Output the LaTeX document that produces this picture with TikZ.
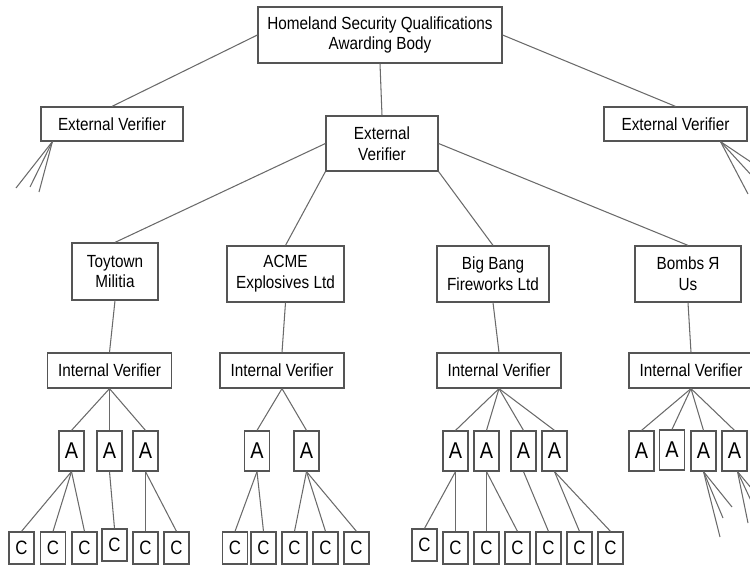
\documentclass[tikz,border=0pt]{standalone}
\usepackage{fontspec}
\setmainfont{Liberation Sans}[FakeStretch=0.87]
\usepackage{tikz}

\definecolor{linegray}{HTML}{6A6A6A}
\definecolor{boxgray}{HTML}{555555}

\tikzset{
	box/.style = {draw = boxgray, fill = white, line width = 0.7pt, align = center, inner sep = 0pt,
		font = \fontsize{10}{11.8}\selectfont},
	abox/.style = {box, minimum width = 0.5cm, minimum height = 0.8cm, font = \fontsize{13}{13}\selectfont},
	cbox/.style = {box, minimum width = 0.5cm, minimum height = 0.64cm, font = \fontsize{11}{11}\selectfont},
	link/.style = {draw = linegray, line width = 0.6pt}
}

\begin{document}
\begin{tikzpicture}[x = 0.02cm, y = -0.02cm]
	\useasboundingbox (0,0) rectangle (750,565);
	\clip (0,0) rectangle (750,565);

	\node[box, minimum width = 4.88cm, minimum height = 1.12cm] (hsq) at (380,35) {Homeland Security Qualifications\\Awarding Body};
	\node[box, minimum width = 2.84cm, minimum height = 0.68cm] (evl) at (112,124) {External Verifier};
	\node[box, minimum width = 2.86cm, minimum height = 0.68cm] (evr) at (675.5,124) {External Verifier};
	\node[box, minimum width = 2.24cm, minimum height = 1.1cm] (evm) at (382,143.5) {External\\Verifier};

	\node[box, minimum width = 1.72cm, minimum height = 1.14cm] (toy) at (115,271.5) {Toytown\\Militia};
	\node[box, minimum width = 2.34cm, minimum height = 1.12cm] (acme) at (285.5,274) {ACME\\Explosives Ltd};
	\node[box, minimum width = 2.24cm, minimum height = 1.12cm] (bang) at (493,274) {Big Bang\\Fireworks Ltd};
	\node[box, minimum width = 2.12cm, minimum height = 1.12cm] (bombs) at (688,274) {Bombs Я\\Us};

	\foreach \n/\x in {toy/109.5, acme/282, bang/499, bombs/691}{
		\node[box, minimum width = 2.48cm, minimum height = 0.7cm] (\n iv) at (\x,370.5) {Internal Verifier};
		\draw[link] (\n.south) -- (\n iv.north);
	}

	\draw[link] (hsq.west) -- (evl.north);
	\draw[link] (hsq.east) -- (evr.north);
	\draw[link] (hsq.south) -- (evm.north);
	\draw[link] (evm.west) -- (toy.north);
	\draw[link] (evm.south west) -- (acme.north);
	\draw[link] (evm.south east) -- (bang.north);
	\draw[link] (evm.east) -- (bombs.north);

	% assessors
	\foreach \x/\y [count = \i] in {71.5/451, 109.5/451, 145.5/451}
		\node[abox] (toya\i) at (\x,\y) {A};
	\foreach \x/\y [count = \i] in {257/451, 306.5/451}
		\node[abox] (acmea\i) at (\x,\y) {A};
	\foreach \x/\y [count = \i] in {455.5/451, 486.5/451, 523.5/451, 554.5/451}
		\node[abox] (banga\i) at (\x,\y) {A};
	\foreach \x/\y [count = \i] in {641.5/451, 672/450, 703.5/451, 734.5/451}
		\node[abox] (bombsa\i) at (\x,\y) {A};

	\foreach \n/\k in {toy/3, acme/2, bang/4, bombs/4}
		\foreach \i in {1,...,\k}
			\draw[link] (\n iv.south) -- (\n a\i.north);

	% candidates
	\foreach \x/\y [count = \i] in {21.5/548, 53/548, 84.5/548, 114.5/545, 145.5/548, 176.5/548}
		\node[cbox] (toyc\i) at (\x,\y) {C};
	\foreach \x/\y [count = \i] in {235/548, 263.5/548, 294.5/548, 325.5/548, 356.5/548}
		\node[cbox] (acmec\i) at (\x,\y) {C};
	\foreach \x/\y [count = \i] in {424.5/545, 455.5/548, 486.5/548, 517.5/548, 548.5/548, 579.5/548, 610.5/548}
		\node[cbox] (bangc\i) at (\x,\y) {C};

	\foreach \a/\c in {1/1, 1/2, 1/3, 2/4, 3/5, 3/6}
		\draw[link] (toya\a.south) -- (toyc\c.north);
	\foreach \a/\c in {1/1, 1/2, 2/3, 2/4, 2/5}
		\draw[link] (acmea\a.south) -- (acmec\c.north);
	\foreach \a/\c in {1/1, 1/2, 2/3, 2/4, 3/5, 4/6, 4/7}
		\draw[link] (banga\a.south) -- (bangc\c.north);

	% loose ends
	\coordinate (evlf1) at (16,188);
	\coordinate (evlf2) at (30,187);
	\coordinate (evlf3) at (39,192);
	\coordinate (evrf1) at (785,185);
	\coordinate (evrf2) at (765,190);
	\coordinate (evrf3) at (748,194);
	\coordinate (bombsf1) at (732,507);
	\coordinate (bombsf2) at (723,518);
	\coordinate (bombsf3) at (720,537);
	\coordinate (bombsf4) at (767,507);
	\coordinate (bombsf5) at (760,520);
	\coordinate (bombsf6) at (748,523);
	\foreach \i in {1,2,3}{
		\draw[link] ([xshift = 0.24cm]evl.south west) -- (evlf\i);
		\draw[link] ([xshift = 0.9cm]evr.south) -- (evrf\i);
	}
	\foreach \i in {1,2,3}
		\draw[link] (bombsa3.south) -- (bombsf\i);
	\foreach \i in {4,5,6}
		\draw[link] ([xshift = 0.06cm]bombsa4.south) -- (bombsf\i);
\end{tikzpicture}
\end{document}
